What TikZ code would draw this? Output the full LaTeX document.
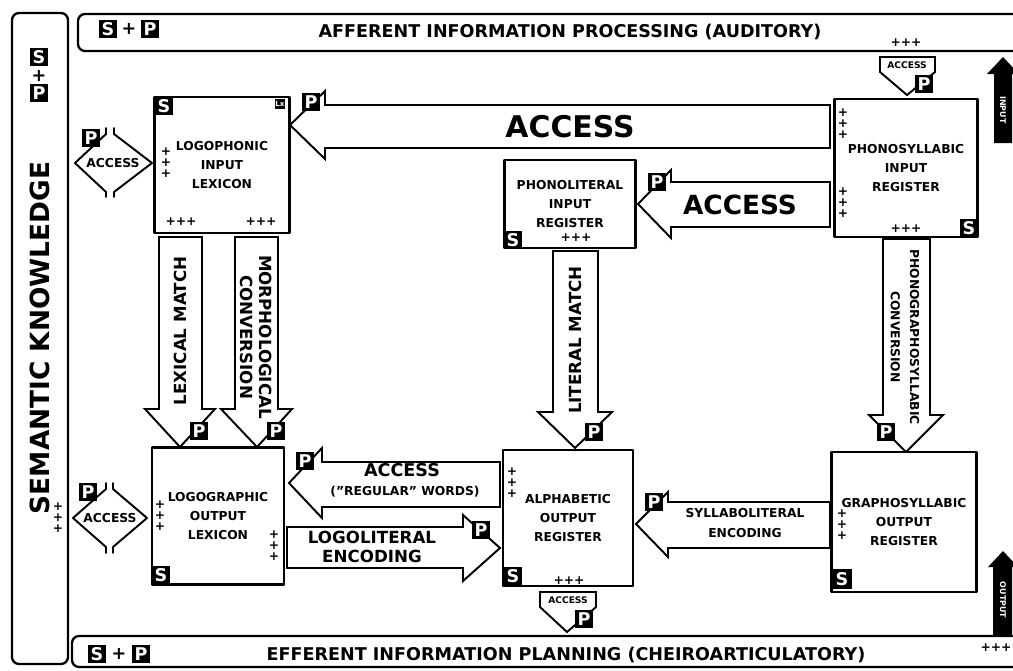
\documentclass[tikz,border=0pt]{standalone}
\usepackage{fontspec}
\setmainfont{DejaVu Sans}
\usetikzlibrary{positioning}

\tikzset{
	box/.style={draw, line width=1.4pt, fill=white, align=center, inner sep=0pt, font=\bfseries\fontsize{7}{11}\selectfont},
	blk/.style={draw, line width=1.1pt, fill=white, line join=miter},
	badge/.style={fill=black, text=white, font=\bfseries\fontsize{10}{10}\selectfont, minimum size=0.36cm, inner sep=0pt},
	pls/.style={font=\bfseries\fontsize{7}{6.2}\selectfont, align=center, inner sep=0pt},
	lbl/.style={font=\bfseries, align=center, inner sep=0pt},
}

\begin{document}
\begin{tikzpicture}[x=0.02cm, y=-0.02cm, line cap=round, line join=round]
			\useasboundingbox (0,0) rectangle (1013,670);
			\clip (0,0) rectangle (1013,670);
			% frames
			\draw[line width=1.3pt, rounded corners=4pt] (12,13) rectangle (68,664);
			\draw[line width=1.3pt, rounded corners=4pt] (1013,14) -- (78,14) -- (78,51) -- (1013,51);
			\draw[line width=1.3pt, rounded corners=4pt] (1013,636) -- (72,636) -- (72,667) -- (1013,667);
			\node[lbl, rotate=90, font=\bfseries\fontsize{15}{15}\selectfont] (sem) at (40,338) {SEMANTIC KNOWLEDGE};
			\node[lbl, font=\bfseries\fontsize{10}{10}\selectfont] (aff) at (570,32) {AFFERENT INFORMATION PROCESSING (AUDITORY)};
			\node[lbl, font=\bfseries\fontsize{10}{10}\selectfont] (eff) at (566,655) {EFFERENT INFORMATION PLANNING (CHEIROARTICULATORY)};
			% arrows
			\draw[blk] (830,105) -- (325,105) -- (325,91) -- (290,125) -- (325,159) -- (325,148) -- (830,148) -- cycle;
			\draw[blk] (830,182) -- (671,182) -- (671,170) -- (638,204) -- (671,238) -- (671,227) -- (830,227) -- cycle;
			\draw[blk] (159,237) -- (202,237) -- (202,409) -- (215,409) -- (180,447) -- (145,409) -- (159,409) -- cycle;
			\draw[blk] (235,237) -- (278,237) -- (278,409) -- (292,409) -- (257,447) -- (221,409) -- (235,409) -- cycle;
			\draw[blk] (553,251) -- (598,251) -- (598,412) -- (612,412) -- (575,448) -- (538,412) -- (553,412) -- cycle;
			\draw[blk] (883,239) -- (930,239) -- (930,415) -- (943,415) -- (906,452) -- (869,415) -- (883,415) -- cycle;
			\draw[blk] (500,462) -- (322,462) -- (322,448) -- (289,483) -- (322,518) -- (322,507) -- (500,507) -- cycle;
			\draw[blk] (287,527) -- (463,527) -- (463,515) -- (500,548) -- (463,581) -- (463,568) -- (287,568) -- cycle;
			\draw[blk] (830,502) -- (668,502) -- (668,492) -- (636,524) -- (668,557) -- (668,548) -- (830,548) -- cycle;
			\node[lbl, font=\bfseries\fontsize{17}{17}\selectfont] (acc1) at (570,127) {ACCESS};
			\node[lbl, font=\bfseries\fontsize{15}{15}\selectfont] (acc2) at (740,205) {ACCESS};
			\node[lbl, rotate=90, font=\bfseries\fontsize{9.5}{11}\selectfont] (lexm) at (180,331) {LEXICAL MATCH};
			\node[lbl, rotate=-90, font=\bfseries\fontsize{9.5}{11}\selectfont] (morph) at (256,337) {MORPHOLOGICAL\\CONVERSION};
			\node[lbl, rotate=90, font=\bfseries\fontsize{9.5}{11}\selectfont] (litm) at (575,340) {LITERAL MATCH};
			\node[lbl, rotate=-90, font=\bfseries\fontsize{7}{11}\selectfont] (pgs) at (905,337) {PHONOGRAPHOSYLLABIC\\CONVERSION};
			\node[lbl, font=\bfseries\fontsize{10}{10}\selectfont] (acc3) at (402,470) {ACCESS};
			\node[lbl, font=\bfseries\fontsize{7}{7}\selectfont] (reg) at (405,492) {({"}REGULAR{"} WORDS)};
			\node[lbl, font=\bfseries\fontsize{9.5}{11}\selectfont] (llenc) at (372,547) {LOGOLITERAL\\ENCODING};
			\node[lbl, font=\bfseries\fontsize{7}{11}\selectfont] (slenc) at (745,523) {SYLLABOLITERAL\\ENCODING};
			% access diamonds
			\draw[line width=1.1pt] (106,128) -- (106,134) -- (75,163) -- (106,192) -- (106,197);
			\draw[line width=1.1pt] (114,128) -- (114,134) -- (152,163) -- (114,192) -- (114,197);
			\draw[line width=1.1pt] (106,483) -- (106,489) -- (73,518) -- (106,547) -- (106,553);
			\draw[line width=1.1pt] (113,483) -- (113,489) -- (147,518) -- (113,547) -- (113,553);
			\node[lbl, font=\bfseries\fontsize{7}{7}\selectfont] (dacc1) at (113,163) {ACCESS};
			\node[lbl, font=\bfseries\fontsize{7}{7}\selectfont] (dacc2) at (110,518) {ACCESS};
			% small access
			\draw[blk] (880,57) -- (935,57) -- (935,72) -- (907,95) -- (880,72) -- cycle;
			\draw[blk] (540,592) -- (596,592) -- (596,607) -- (567,632) -- (540,607) -- cycle;
			\node[lbl, font=\bfseries\fontsize{5.2}{5.2}\selectfont] (sacc1) at (907,65) {ACCESS};
			\node[lbl, font=\bfseries\fontsize{5.2}{5.2}\selectfont] (sacc2) at (568,600) {ACCESS};
			% input / output
			\fill (994,143) -- (994,74) -- (987,74) -- (1003,57) -- (1019,74) -- (1012,74) -- (1012,143) -- cycle;
			\fill (993,635) -- (993,567) -- (988,567) -- (1003,551) -- (1018,567) -- (1012,567) -- (1012,635) -- cycle;
			\node[lbl, rotate=-90, text=white, font=\bfseries\fontsize{4.5}{4.5}\selectfont] (inp) at (1003,110) {INPUT};
			\node[lbl, rotate=-90, text=white, font=\bfseries\fontsize{4.5}{4.5}\selectfont] (outp) at (1003,600) {OUTPUT};
			% boxes
			\node[box, minimum width=2.7cm, minimum height=2.72cm] (lexin) at (222,165) {LOGOPHONIC\\INPUT\\LEXICON};
			\node[box, minimum width=2.62cm, minimum height=1.76cm] (litin) at (570,204) {PHONOLITERAL\\INPUT\\REGISTER};
			\node[box, minimum width=2.86cm, minimum height=2.76cm] (sylin) at (906,168) {PHONOSYLLABIC\\INPUT\\REGISTER};
			\node[box, minimum width=2.64cm, minimum height=2.74cm] (lexout) at (218,516) {LOGOGRAPHIC\\OUTPUT\\LEXICON};
			\node[box, minimum width=2.6cm, minimum height=2.72cm] (litout) at (568,518) {ALPHABETIC\\OUTPUT\\REGISTER};
			\node[box, minimum width=2.9cm, minimum height=2.8cm] (sylout) at (904,522) {GRAPHOSYLLABIC\\OUTPUT\\REGISTER};
			% badges
			\node[badge] (semS) at (39,57) {S};
			\node[lbl, font=\bfseries\fontsize{10}{10}\selectfont] (semplus) at (39,76) {+};
			\node[badge] (semP) at (39,93) {P};
			\node[badge] (affS) at (108,29) {S};
			\node[lbl, font=\bfseries\fontsize{10}{10}\selectfont] (affplus) at (129,29) {+};
			\node[badge] (affP) at (150,29) {P};
			\node[badge] (effS) at (97,654) {S};
			\node[lbl, font=\bfseries\fontsize{10}{10}\selectfont] (effplus) at (119,654) {+};
			\node[badge] (effP) at (141,654) {P};
			\node[badge] (lexinS) at (164,106) {S};
			\node[badge, minimum size=0.2cm, font=\bfseries\fontsize{4}{4}\selectfont] (lexinL) at (280,104) {Lx};
			\node[badge] (litinS) at (513,240) {S};
			\node[badge] (sylinS) at (969,228) {S};
			\node[badge] (lexoutS) at (161,575) {S};
			\node[badge] (litoutS) at (513,576) {S};
			\node[badge, minimum size=0.4cm] (syloutS) at (842,579) {S};
			\node[badge] (acc1P) at (311,102) {P};
			\node[badge] (acc2P) at (657,182) {P};
			\node[badge] (dacc1P) at (91,138) {P};
			\node[badge] (dacc2P) at (88,492) {P};
			\node[badge] (lexmP) at (199,431) {P};
			\node[badge] (morphP) at (276,431) {P};
			\node[badge] (litmP) at (594,432) {P};
			\node[badge] (pgsP) at (886,432) {P};
			\node[badge] (acc3P) at (305,461) {P};
			\node[badge] (llencP) at (481,530) {P};
			\node[badge] (slencP) at (654,502) {P};
			\node[badge] (sacc1P) at (924,84) {P};
			\node[badge] (sacc2P) at (584,619) {P};
			% plus signs
			\node[pls] (p1) at (166,163) {+\\+\\+};
			\node[pls] (p2) at (181,222) {+++};
			\node[pls] (p3) at (261,222) {+++};
			\node[pls] (p4) at (843,124) {+\\+\\+};
			\node[pls] (p5) at (843,203) {+\\+\\+};
			\node[pls] (p6) at (906,229) {+++};
			\node[pls] (p7) at (576,238) {+++};
			\node[pls] (p8) at (906,43) {+++};
			\node[pls] (p9) at (160,516) {+\\+\\+};
			\node[pls] (p10) at (274,546) {+\\+\\+};
			\node[pls] (p11) at (512,483) {+\\+\\+};
			\node[pls] (p12) at (569,581) {+++};
			\node[pls] (p13) at (842,525) {+\\+\\+};
			\node[pls] (p14) at (58,518) {+\\+\\+};
			\node[pls] (p15) at (996,648) {+++};
		\end{tikzpicture}
\end{document}
